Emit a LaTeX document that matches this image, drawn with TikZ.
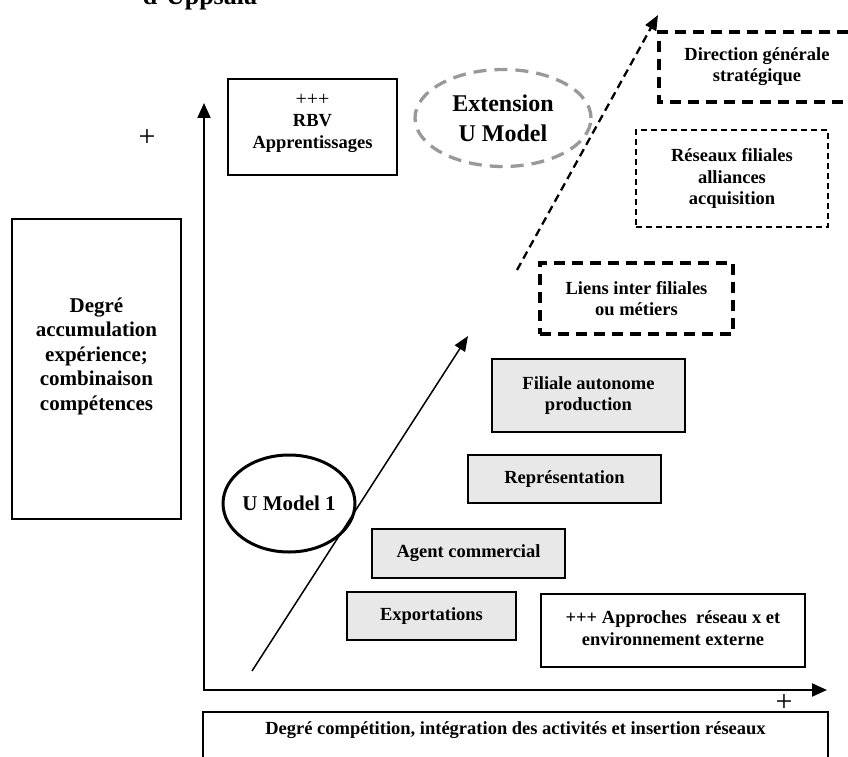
\documentclass[tikz,border=0pt]{standalone}
\usepackage{fontspec}
\setmainfont{Liberation Serif}
\usetikzlibrary{shapes.geometric,arrows.meta}
\definecolor{boxgray}{HTML}{E8E8E8}
\definecolor{ellgray}{HTML}{999999}
\tikzset{
  txt/.style={align=center, font=\fontsize{18.5}{21.5}\selectfont\bfseries, inner sep=0pt},
  plainbox/.style={draw, line width=1.3pt, inner sep=0pt, align=center, font=\fontsize{18.5}{21.5}\selectfont\bfseries},
  graybox/.style={plainbox, fill=boxgray},
  thickdash/.style={line width=3.3pt, dash pattern=on 11pt off 7pt},
  thindash/.style={line width=1.3pt, dash pattern=on 6pt off 4pt},
  axis/.style={line width=2pt, -{Triangle[length=15pt,width=13pt]}},
  plus/.style={font=\fontsize{30}{30}\selectfont, inner sep=0pt},
}
\begin{document}
\begin{tikzpicture}[x=1pt,y=-1pt]
\useasboundingbox (0,0) rectangle (848,757);

% heading fragment (cut off by the top edge, as in the reference)
\node[font=\fontsize{26}{30}\selectfont\bfseries, anchor=base, inner sep=0pt] (upps) at (200,4.5) {d'Uppsala};

% axes
\coordinate (o) at (204,689);
\coordinate (ytip) at (204,103);
\coordinate (xstart) at (203,690);
\coordinate (xtip) at (827,690);
\draw[axis] (o) -- (ytip);
\draw[axis] (xstart) -- (xtip);
\node[plus] (plusy) at (147,138) {+};
\node[plus] (plusx) at (784,703) {+};

% left box
\node[plainbox, minimum width=169pt, minimum height=300pt] (degre) at (96.5,369) {};
\node[txt, font=\fontsize{21}{24.5}\selectfont\bfseries] (degretxt) at (96.5,356)
  {Degré\\accumulation\\expérience;\\combinaison\\compétences};

% RBV box
\node[plainbox, minimum width=169pt, minimum height=96pt] (rbv) at (312.5,127) {};
\node[txt] (rbvtxt) at (312.5,123) {{\mdseries\fontsize{20}{21.5}\selectfont +++}\\RBV\\Apprentissages};

% Extension ellipse
\node[ellipse, draw=ellgray, line width=3.3pt, dash pattern=on 13pt off 8pt,
      minimum width=176pt, minimum height=97pt, inner sep=0pt, align=center,
      font=\fontsize{24}{30}\selectfont\bfseries] (ext) at (503,118) {Extension\\U Model};

% Direction (open on the right)
\draw[thickdash] (848,32) -- (659,32) -- (659,102) -- (848,102);
\node[txt] (dir) at (757,66.5) {Direction générale\\stratégique};

% Reseaux
\node[plainbox, thindash, minimum width=192pt, minimum height=97pt] (res) at (732,178.5)
  {Réseaux filiales\\alliances\\acquisition};

% Liens
\node[plainbox, thickdash, minimum width=193pt, minimum height=71pt] (liens) at (636.5,298.5)
  {Liens inter filiales\\ou métiers};

% gray steps
\node[graybox, minimum width=193pt, minimum height=73pt] (fil) at (588.5,395.5)
  {Filiale autonome\\production};
\node[graybox, minimum width=193pt, minimum height=48pt] (rep) at (564.5,479) {Représentation};
\node[graybox, minimum width=193pt, minimum height=49pt] (agent) at (468.5,553.5) {Agent commercial};
\node[graybox, line width=2.3pt, minimum width=169pt, minimum height=48pt] (exp) at (431.5,616) {Exportations};

% Approches
\node[plainbox, minimum width=264pt, minimum height=73pt] (appr) at (673,630.5) {};
\node[txt] (apprtxt) at (673,628) {+++ Approches~ réseau x et\\environnement externe};

% U Model 1
\node[ellipse, draw, line width=3pt, minimum width=122pt, minimum height=97pt, inner sep=0pt,
      font=\fontsize{21}{24}\selectfont\bfseries] (um1) at (289,503.5) {U Model 1};

% bottom box (open at bottom)
\draw[line width=1.3pt] (203,765) -- (203,712) -- (828,712) -- (828,765);
\node[txt] (bottom) at (515.5,730) {Degré compétition, intégration des activités et insertion réseaux};

% diagonal arrows
\coordinate (s1) at (252,671);
\coordinate (e1) at (468,336);
\draw[line width=1.5pt, -{Triangle[length=15pt,width=12pt]}] (s1) -- (e1);
\coordinate (s2) at (517,270);
\coordinate (e2) at (658,15);
\draw[line width=2.3pt, dash pattern=on 8pt off 5pt, -{Triangle[length=15pt,width=12pt]}] (s2) -- (e2);
\end{tikzpicture}
\end{document}
